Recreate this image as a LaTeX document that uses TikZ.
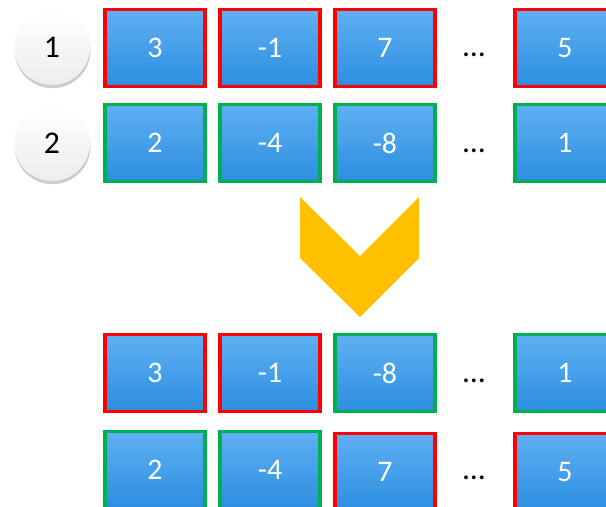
\documentclass[tikz,border=0pt]{standalone}
\usepackage{fontspec}
\setmainfont{Carlito}
\usetikzlibrary{shadows}
\definecolor{cellred}{RGB}{255,0,0}
\definecolor{cellgreen}{RGB}{0,176,80}
\definecolor{celltop}{RGB}{95,176,242}
\definecolor{cellmid}{RGB}{66,163,240}
\definecolor{cellbottom}{RGB}{44,142,224}
\definecolor{chevron}{RGB}{255,192,0}
\tikzstyle{cell} = [rectangle, minimum width=2cm, minimum height=1.54cm, text centered, text=white, font=\fontsize{17}{20}\selectfont, top color=celltop, middle color=cellmid, bottom color=cellbottom, line width=0.065cm]
\tikzstyle{redcell} = [cell, draw=cellred]
\tikzstyle{greencell} = [cell, draw=cellgreen]
\tikzstyle{badge} = [circle, minimum size=1.52cm, top color=white, bottom color=gray!14, drop shadow={opacity=0.4, shadow xshift=0.3pt, shadow yshift=-1.8pt}, font=\fontsize{18}{20}\selectfont]
\tikzstyle{gap} = [inner sep=0pt, font=\fontsize{18}{20}\selectfont]

\begin{document}
\begin{tikzpicture}[x=0.02cm, y=-0.02cm]
        \useasboundingbox (0,0) rectangle (606,507);
        \clip (0,0) rectangle (606,507);

        % Rows before
        \node (one) [badge] at (52,47) {1};
        \node (two) [badge] at (52,143) {2};

        \node (a1) [redcell] at (155,48) {3};
        \node (a2) [redcell] at (270,48) {-1};
        \node (a3) [redcell] at (385,48) {7};
        \node (adots) [gap] at (474,55) {...};
        \node (an) [redcell] at (565,48) {5};

        \node (b1) [greencell] at (155,143) {2};
        \node (b2) [greencell] at (270,143) {-4};
        \node (b3) [greencell] at (385,143) {-8};
        \node (bdots) [gap] at (474,151) {...};
        \node (bn) [greencell] at (565,143) {1};

        % Chevron
        \fill [chevron] (300,197) -- (360,256) -- (419,197) -- (419,258) -- (360,317) -- (300,258) -- cycle;

        % Rows after
        \node (c1) [redcell] at (155,373) {3};
        \node (c2) [redcell] at (270,373) {-1};
        \node (c3) [greencell] at (385,373) {-8};
        \node (cdots) [gap] at (474,381) {...};
        \node (cn) [greencell] at (565,373) {1};

        \node (d1) [greencell] at (155,470) {2};
        \node (d2) [greencell] at (270,470) {-4};
        \node (d3) [redcell] at (385,472) {7};
        \node (ddots) [gap] at (474,478) {...};
        \node (dn) [redcell] at (565,472) {5};

\end{tikzpicture}
\end{document}
